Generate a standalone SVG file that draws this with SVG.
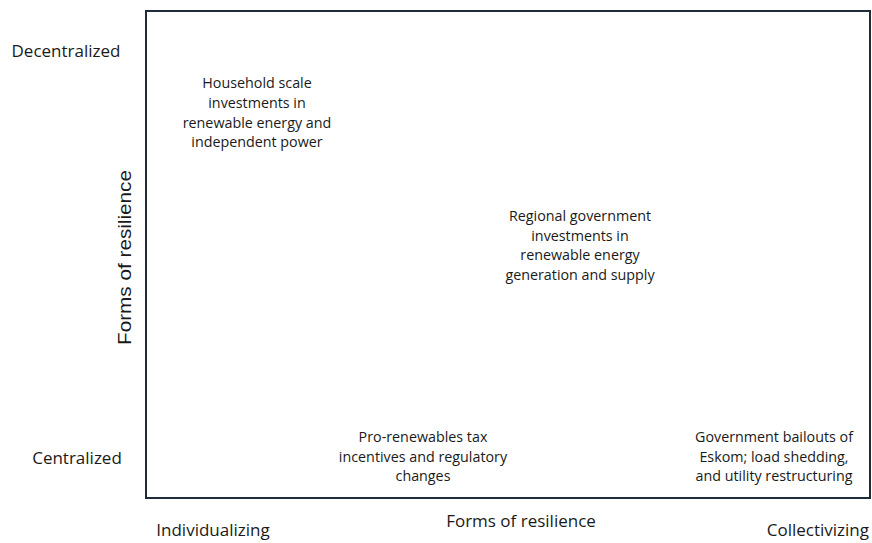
<svg xmlns="http://www.w3.org/2000/svg" width="872" height="543" viewBox="0 0 872 543">
  <style>
    text { font-family: "Open Sans", "Liberation Sans", sans-serif; fill: #1a1a1a; }
    .axis { font-size: 17px; }
    .vaxis { font-family: "Liberation Sans", Arial, sans-serif; font-size: 18px; }
    .item { font-size: 14.3px; text-anchor: middle; }
    .frame { fill: #ffffff; stroke: #1d2b3a; stroke-width: 2; }
  </style>
  <rect width="872" height="543" fill="#ffffff"/>

  <!-- plot frame -->
  <g id="frame">
    <rect class="frame" x="146" y="11" width="724" height="487"/>
  </g>

  <!-- axis labels -->
  <g id="axis-y">
    <text class="axis" x="66" y="57" text-anchor="middle">Decentralized</text>
    <text class="axis" x="77" y="464" text-anchor="middle">Centralized</text>
    <text class="vaxis" transform="translate(131 345) rotate(-90)" textLength="175" lengthAdjust="spacingAndGlyphs">Forms of resilience</text>
  </g>
  <g id="axis-x">
    <text class="axis" x="213" y="536" text-anchor="middle">Individualizing</text>
    <text class="axis" x="521" y="527" text-anchor="middle">Forms of resilience</text>
    <text class="axis" x="869" y="536" text-anchor="end">Collectivizing</text>
  </g>

  <!-- quadrant entries -->
  <g id="household">
    <text class="item" x="257" y="88">Household scale</text>
    <text class="item" x="257" y="108">investments in</text>
    <text class="item" x="257" y="128">renewable energy and</text>
    <text class="item" x="257" y="147">independent power</text>
  </g>
  <g id="regional">
    <text class="item" x="580" y="221">Regional government</text>
    <text class="item" x="580" y="241">investments in</text>
    <text class="item" x="580" y="260">renewable energy</text>
    <text class="item" x="580" y="280">generation and supply</text>
  </g>
  <g id="tax">
    <text class="item" x="423" y="442">Pro-renewables tax</text>
    <text class="item" x="423" y="462">incentives and regulatory</text>
    <text class="item" x="423" y="481">changes</text>
  </g>
  <g id="eskom">
    <text class="item" x="774" y="442">Government bailouts of</text>
    <text class="item" x="774" y="462">Eskom; load shedding,</text>
    <text class="item" x="774" y="481">and utility restructuring</text>
  </g>
  <g id="connectors"></g>
</svg>
